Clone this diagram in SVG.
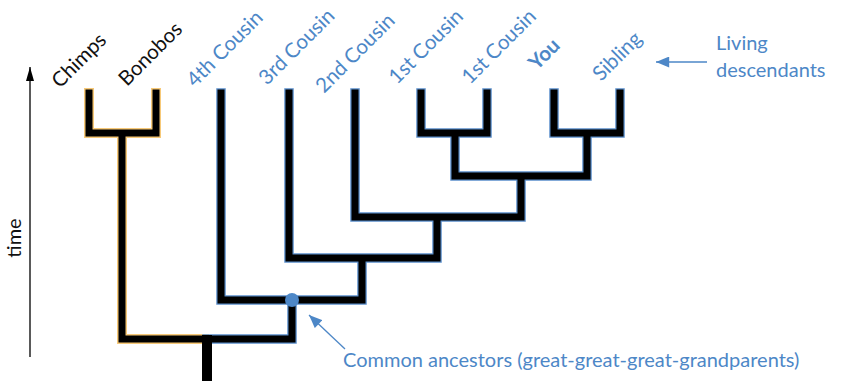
<svg xmlns="http://www.w3.org/2000/svg" width="841" height="381" viewBox="0 0 841 381">
<style>
.lbl{font-family:Lato,"Noto Sans",sans-serif;font-size:20px;}
.rot{font-size:20.5px;}
.blk{fill:#111;}
.blu{fill:#4d87c7;}
.edgeO{fill:none;stroke:#f7c978;stroke-width:10;stroke-linecap:square;stroke-linejoin:miter;}
.edgeB{fill:none;stroke:#5b8fcb;stroke-width:9.5;stroke-linecap:square;stroke-linejoin:miter;}
.core{fill:none;stroke:#000;stroke-width:7;stroke-linecap:square;stroke-linejoin:miter;}
</style>
<defs>
<marker id="ah" viewBox="0 0 14 8" refX="14" refY="4" markerWidth="14" markerHeight="8" markerUnits="userSpaceOnUse" orient="auto"><path d="M0,0 L14,4 L0,8 z" fill="#000"/></marker>
<marker id="ahb" viewBox="0 0 12 10" refX="12" refY="5" markerWidth="14" markerHeight="11" markerUnits="userSpaceOnUse" orient="auto"><path d="M0,0 L12,5 L0,10 z" fill="#4d87c7"/></marker>
</defs>
<g id="connectors">
<path class="edgeO" d="M89,93 V133 H156 V93 M122,133 V339 H204"/>
<path class="core" d="M89,93 V133 H156 V93 M122,133 V339 H204"/>
<path class="edgeB" d="M207,339 H292 V300 M221,93 V300 H362 V258 M289,93 V258 H437 V217 M355,93 V217 H521 V176 M421,93 V133 H487 V93 M455,133 V176 H587 V133 M554,93 V133 H620 V93"/>
<path class="core" d="M207,339 H292 V300 M221,93 V300 H362 V258 M289,93 V258 H437 V217 M355,93 V217 H521 V176 M421,93 V133 H487 V93 M455,133 V176 H587 V133 M554,93 V133 H620 V93"/>
<rect x="202" y="335" width="10" height="46" fill="#000"/>
<line x1="30" y1="357" x2="30" y2="67" stroke="#000" stroke-width="1.3" marker-end="url(#ah)"/>
<line x1="707" y1="62" x2="656" y2="62" stroke="#4d87c7" stroke-width="1.3" marker-end="url(#ahb)"/>
<line x1="345" y1="349" x2="309" y2="315" stroke="#4d87c7" stroke-width="1.3" marker-end="url(#ahb)"/>
</g>
<g id="node-ancestor"><circle cx="292" cy="300" r="7" fill="#4d87c7"/></g>
<g id="label-chimps"><text class="lbl rot blk" transform="translate(60,89) rotate(-45)">Chimps</text></g>
<g id="label-bonobos"><text class="lbl rot blk" transform="translate(127,87) rotate(-45)">Bonobos</text></g>
<g id="label-4th"><text class="lbl rot blu" transform="translate(195,88) rotate(-45)">4th Cousin</text></g>
<g id="label-3rd"><text class="lbl rot blu" transform="translate(267,86) rotate(-45)">3rd Cousin</text></g>
<g id="label-2nd"><text class="lbl rot blu" transform="translate(324,94) rotate(-45)">2nd Cousin</text></g>
<g id="label-1st-a"><text class="lbl rot blu" transform="translate(397,85) rotate(-45)">1st Cousin</text></g>
<g id="label-1st-b"><text class="lbl rot blu" transform="translate(470,85) rotate(-45)">1st Cousin</text></g>
<g id="label-you"><text class="lbl rot blu" font-weight="bold" transform="translate(537,71) rotate(-45)">You</text></g>
<g id="label-sibling"><text class="lbl rot blu" transform="translate(601,82) rotate(-45)">Sibling</text></g>
<g id="label-time"><text class="lbl blk" font-size="19" text-anchor="middle" transform="translate(21,238) rotate(-90)">time</text></g>
<g id="label-living"><text class="lbl blu" font-size="21"><tspan x="716" y="50">Living</tspan><tspan x="716" y="77">descendants</tspan></text></g>
<g id="label-common"><text class="lbl blu" x="343" y="367">Common ancestors (great-great-great-grandparents)</text></g>
</svg>
